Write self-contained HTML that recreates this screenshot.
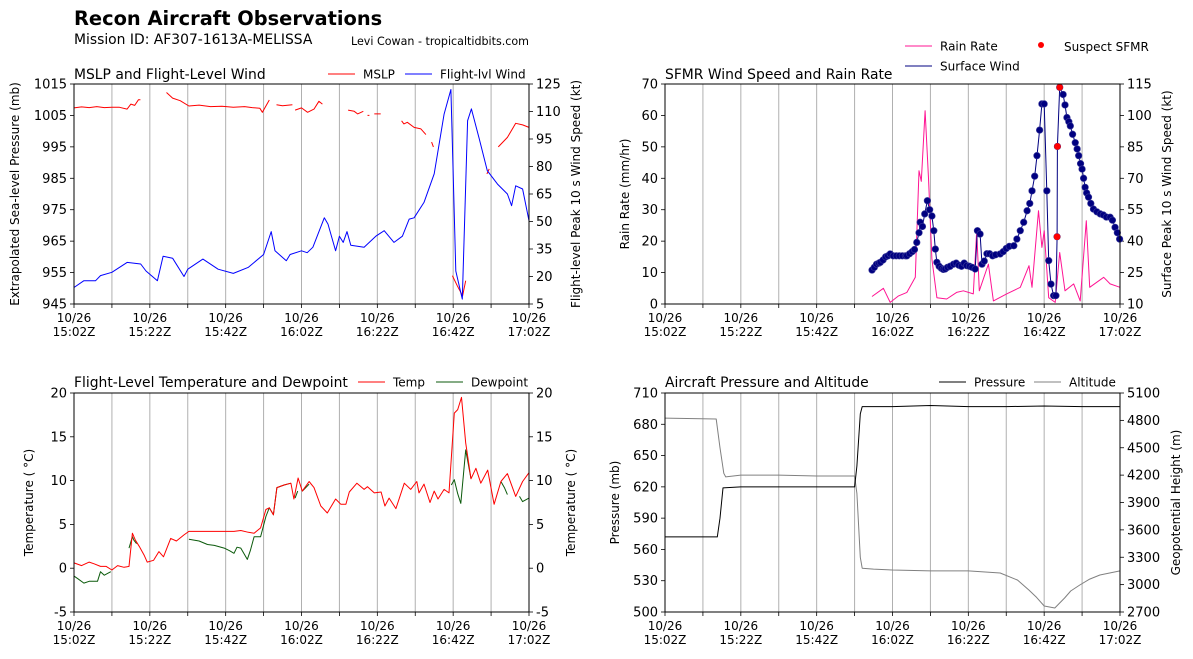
<!DOCTYPE html>
<html><head><meta charset="utf-8"><style>
html,body{margin:0;padding:0;background:#fff;}
svg{display:block;font-family:"DejaVu Sans","Liberation Sans",sans-serif;}
</style></head><body>
<svg id="fig" width="1193" height="659" viewBox="0 0 1193 659" xmlns="http://www.w3.org/2000/svg">
<text x="74" y="25" font-size="19.4" font-weight="bold">Recon Aircraft Observations</text>
<text x="74" y="44" font-size="13.9">Mission ID: AF307-1613A-MELISSA</text>
<text x="351" y="45" font-size="11.1">Levi Cowan - tropicaltidbits.com</text>
</svg>
<script>
// ---- data (t = minutes after 15:02Z) ----
const xTickLabels = ["15:02Z","15:22Z","15:42Z","16:02Z","16:22Z","16:42Z","17:02Z"];
const mslpT = [0,2,4,6,8,10,12,14,15,16,17,17.5,null,24.4,26,28,30.3,33,36,39,42,45,47,49,49.7,51.5,null,53.4,55,57.6,null,58.3,60,61.6,63.3,64.6,65.5,null,72.3,73.9,74.8,76.3,null,77.4,77.9,null,79.2,80.9,null,86.4,87,87.9,89.7,91.5,92.8,null,94.3,94.8,null,99.8,101.1,102.5,103.3,null,108.9,109.5,null,111.9,114.3,116.5,118.3,120];
const mslpV = [1007.4,1007.7,1007.5,1007.8,1007.5,1007.6,1007.6,1007,1008.6,1008.2,1010,1010,null,1012.3,1010.5,1009.7,1008,1008.3,1007.8,1007.9,1007.6,1007.8,1007.5,1007.3,1006,1009.9,null,1008.4,1008.1,1008.4,null,1006.7,1007.4,1006,1007,1009.5,1008.6,null,1006.7,1006.3,1005.5,1006.3,null,1005,1005,null,1005.5,1005.5,null,1003.3,1002.3,1002.8,1001.2,1000.7,998.9,null,996.5,995,null,954,950.8,947.6,952.4,null,986.4,988,null,995,998,1002.5,1002,1001.2];
const windT = [0,2.6,5.7,7,10,14,17.6,19,22,23.5,26,29,30,34,38,42,46,50,52,53,56,57,60,61.5,63,66,67,69,70,71,72,73,76.5,79.6,81.8,84.4,86.6,88.4,89.7,92.3,95,97.6,99.4,100.7,102.4,103.8,104.8,106.9,109,111.7,114.3,115.4,116.5,118.3,120];
const windV = [14,17.7,17.7,20.5,22.3,27.7,26.8,23,17.7,31,30,20,24,29.5,24,21.7,25,32,44.5,34,28.6,32,34,33,36,52,48.6,34,42,38.6,44.5,37,36,42,45,38.6,42,51.3,52,60.4,76,108.6,122,23,7.7,105,111.4,95,77.7,70.4,65,58.6,69.5,67.7,50.4];
const rainT = [54.6,57.6,59.4,61.5,63.8,66,67,67.6,68.6,69.5,70.4,71.7,74.3,76.9,78.7,81.3,82.2,82.9,85.3,86.6,90.1,93.7,96,96.8,98.5,99.4,100,101.2,102.9,104.1,105.5,107.8,109.5,111.1,112,115.7,117.4,120];
const rainV = [2.4,5,0.5,2.5,3.7,8.5,42.4,39,61.5,40,14.3,2,1.6,3.7,4.2,3.2,23.3,4.2,12.7,1,3.2,5.3,12.2,5.3,29.7,18,23.3,2,0.5,16.4,4.2,6.4,1,26.5,5.3,8.5,6.4,5.3];
const sfmrT = [54.6,55.2,55.8,56.4,56.8,57.5,58.2,58.8,59.4,60.2,61,61.8,62.6,63.4,63.8,64.5,65.2,65.8,66.4,67,67.3,67.9,68.5,69.2,69.8,70.4,70.9,71.3,71.7,72.3,72.9,73.4,73.9,74.5,75.2,76.1,76.8,77.5,78.2,78.9,79.6,80.3,81,81.8,82.4,83.1,83.6,84.2,84.9,85.6,86.4,87.2,88.4,89.2,90,90.8,92,92.8,93.7,94.6,95.5,96.2,96.8,97.5,98.1,98.8,99.4,100,100.7,101.2,101.8,102.5,103.1,103.4,103.5,104.1,105,105.5,106,106.5,106.9,107.5,108.2,108.7,109.1,109.6,110,110.4,110.8,111.2,111.7,112.3,113,113.9,114.8,115.6,116.4,117.4,118,118.7,119.3,119.9];
const sfmrV = [26.2,27.5,29,29.5,29.9,31,32.5,33,33.9,33,33,33,33,33,33,34,35,36,39.4,44,49,47,53,59.3,55,52,45,36.2,29.9,28,27,26.5,26.7,27.5,28,29,29.5,28.5,28,29.5,28.3,28,27.5,26.7,45,43.4,29,30.5,34,34,33,33.5,33.9,35,36.5,37.5,37.8,41,45,49,54.5,58,64,71,80.8,93,105.5,105.5,64,30.7,19.5,14,14,42.1,85.2,113.4,110,105,99,97,95,91,87,84,80.8,77,74.4,70,65.7,63,61,58,55.3,54,53,52.5,51.5,51.4,50,46.6,44,41];
const suspectT = [103.4,103.5,104.1];
const suspectV = [42.1,85.2,113.4];
const tempT = [0,2,4,5.3,7,8.5,10,11.5,13.2,14.5,15.4,16.2,17.2,18.5,19.3,21,22.4,23.6,25.5,27,29,30.3,42.2,44,46,47.5,49.2,50.6,51.5,52.6,53.5,55.4,57.2,58,59.1,60.2,62,63.3,65.1,66.8,69,70.4,71.7,72.6,74.6,76.5,77.4,79.2,81,82,83.1,84.9,87.1,88.8,90.4,91,92.3,93.9,95,96,97.6,98.9,100.3,101.2,102.2,103.3,104.7,106,107.3,109.1,110.8,112.6,114.3,116.5,118.3,120];
const tempV = [0.6,0.3,0.7,0.5,0.2,0.2,-0.2,0.3,0.1,0.2,4,3.2,2.5,1.5,0.7,0.9,1.9,1.3,3.4,3.1,3.8,4.2,4.2,4.3,4.1,4,4.6,6.7,6.9,6.1,9.2,9.5,9.7,7.9,10.3,8.8,9.9,9.2,7.1,6.3,7.9,7.3,7.3,8.7,9.7,9,9.3,8.6,8.7,7.1,8,6.8,9.7,9,9.9,8.6,9.6,7.5,8.8,7.9,9,8.6,17.7,18.1,19.5,14.3,10.2,11.4,9.7,11.2,7.3,9.9,10.8,8.2,9.9,10.9];
const dewT = [0,1,2.6,4,6.2,7,8,9.7,null,14.5,15.4,15.8,16.5,null,30.3,33,35.2,37,39.6,41,42.2,43,44,45.7,46.5,47.5,49.2,50.6,51.5,52.6,53.5,55.4,57.2,null,58.3,59,null,60.2,62,null,99.5,100.3,101.2,102,103.3,104.7,null,112.6,113.5,114.3,null,117.5,118.3,120];
const dewV = [-0.9,-1.2,-1.7,-1.5,-1.5,-0.4,-0.8,-0.4,null,2.3,3.6,3.2,2.8,null,3.3,3.1,2.7,2.6,2.3,2,1.7,2.4,2.3,1,2,3.6,3.6,5.9,6.9,6.1,9.2,9.5,9.7,null,8,8.8,null,8.8,9.6,null,9.5,10.1,8.5,7.4,13.5,10.2,null,9.9,9.2,8.4,null,8.2,7.6,8];
const presT = [0,13.8,14.5,15.3,20,30,40,50,50.6,51.5,52,60,70,80,90,100,110,120];
const presV = [572,572,590,619,620,620,620,620,640,690,697,697,698,697,697,697.5,697,697];
const altT = [0,13.5,14.5,15.5,16,20,30,40,50,50.6,51.5,52,55,60,70,80,88.4,93,96,98,100,102.8,105.4,107,109.4,112,114.7,120];
const altV = [4825,4815,4500,4220,4180,4200,4200,4190,4190,4000,3300,3180,3170,3160,3150,3150,3127,3050,2940,2860,2766,2744,2853,2930,2996,3060,3105,3150];
const p1LeftTicks = [945,955,965,975,985,995,1005,1015];
const p1RightTicks = [5,20,35,50,65,80,95,110,125];
const p2LeftTicks = [0,10,20,30,40,50,60,70];
const p2RightTicks = [10,25,40,55,70,85,100,115];
const p3Ticks = [-5,0,5,10,15,20];
const p4LeftTicks = [500,530,560,590,620,650,680,710];
const p4RightTicks = [2700,3000,3300,3600,3900,4200,4500,4800,5100];

const NS = "http://www.w3.org/2000/svg";
const fig = document.getElementById("fig");
function mk(tag, attrs, parent){
  const e = document.createElementNS(NS, tag);
  for (const k in attrs) e.setAttribute(k, attrs[k]);
  (parent||fig).appendChild(e);
  return e;
}
function lin(d0,d1,r0,r1){ return v => r0 + (v-d0)/(d1-d0)*(r1-r0); }

function panel(name, x0, x1, y0, y1){
  const g = mk("g", {});
  
  
  const xs = lin(0,120,x0,x1);
  for (let t=10;t<120;t+=10){
    const l = mk("line",{x1:xs(t),x2:xs(t),y1:y0,y2:y1,stroke:"#b0b0b0","stroke-width":1},g);
    
    
  }
  for (let t=0;t<=120;t+=10){
    const tk = mk("line",{x1:xs(t),x2:xs(t),y1:y1,y2:y1+4,stroke:"#000","stroke-width":0.8},g);
    
    
  }
  xTickLabels.forEach((lab,i)=>{
    const t = i*20;
    const a = mk("text",{x:xs(t),y:y1+18,"font-size":12,"text-anchor":"middle"},g);
    a.textContent = "10/26";
    
    
    const b = mk("text",{x:xs(t),y:y1+32,"font-size":12,"text-anchor":"middle"},g);
    b.textContent = lab;
    
    
  });
  return {g, xs, x0, x1, y0, y1};
}
function frame(P){
  const r = mk("rect",{x:P.x0,y:P.y0,width:P.x1-P.x0,height:P.y1-P.y0,fill:"none",stroke:"#000","stroke-width":1},P.g);
  
  
}
function yAxis(P, ticks, d0, d1, side, title, titleX){
  const ys = lin(d0,d1,P.y1,P.y0);
  const x = side==="left"?P.x0:P.x1;
  ticks.forEach(v=>{
    const tk = mk("line",{x1:x,x2:side==="left"?x-4:x+4,y1:ys(v),y2:ys(v),stroke:"#000","stroke-width":0.8},P.g);
    
    
    const tx = mk("text",{x:side==="left"?x-7:x+7,y:ys(v)+4.5,"font-size":13,"text-anchor":side==="left"?"end":"start"},P.g);
    tx.textContent = v;
    
    
  });
  const cy = (P.y0+P.y1)/2;
  const tt = mk("text",{x:titleX,y:cy,"font-size":12,"text-anchor":"middle",transform:`rotate(-90 ${titleX} ${cy})`},P.g);
  tt.textContent = title;
  
  
  return ys;
}
function series(P, T, V, ys, color, name, w){
  let d = "", pen = false;
  for (let i=0;i<T.length;i++){
    if (T[i]===null || V[i]===null){ pen=false; continue; }
    d += (pen?"L":"M") + P.xs(T[i]).toFixed(1) + "," + ys(V[i]).toFixed(1);
    pen = true;
  }
  const p = mk("path",{d:d,fill:"none",stroke:color,"stroke-width":w||1,"stroke-linejoin":"round"},P.g);
  
  
  return p;
}
function text(P, x, y, s, name, size){
  const t = mk("text",{x:x,y:y,"font-size":size||13.9},P.g);
  t.textContent = s;
  
  
}
function legLine(P, x, y, color, label, name){
  const l = mk("line",{x1:x,x2:x+27,y1:y,y2:y,stroke:color,"stroke-width":1},P.g);
  
  
  const t = mk("text",{x:x+35,y:y+4.5,"font-size":12},P.g);
  t.textContent = label;
  
  
}

// Panel 1
const P1 = panel("mslp-wind-panel",74,529,84,304);
const p1L = yAxis(P1,p1LeftTicks,945,1015,"left","Extrapolated Sea-level Pressure (mb)",19);
const p1R = yAxis(P1,p1RightTicks,5,125,"right","Flight-level Peak 10 s Wind Speed (kt)",580);
series(P1,mslpT,mslpV,p1L,"#ff0000","mslp-line");
series(P1,windT,windV,p1R,"#0000ff","flight-wind-line");
frame(P1);
text(P1,74,79,"MSLP and Flight-Level Wind","panel-title");
legLine(P1,328,74,"#ff0000","MSLP","legend-mslp");
legLine(P1,405,74,"#0000ff","Flight-lvl Wind","legend-flight-wind");

// Panel 2
const P2 = panel("sfmr-rain-panel",665,1120,84,304);
const p2L = yAxis(P2,p2LeftTicks,0,70,"left","Rain Rate (mm/hr)",629);
const p2R = yAxis(P2,p2RightTicks,10,115,"right","Surface Peak 10 s Wind Speed (kt)",1171);
series(P2,rainT,rainV,p2L,"#ff1493","rain-rate-line");
series(P2,sfmrT,sfmrV,p2R,"#000080","surface-wind-line");
sfmrT.forEach((t,i)=>{
  const c = mk("circle",{cx:P2.xs(t),cy:p2R(sfmrV[i]),r:3.3,fill:"#000080",stroke:"#3a3a9a","stroke-width":0.6},P2.g);
  
  
});
suspectT.forEach((t,i)=>{
  const c = mk("circle",{cx:P2.xs(t),cy:p2R(suspectV[i]),r:3.3,fill:"#ff0000"},P2.g);
  
  
});
frame(P2);
text(P2,665,79,"SFMR Wind Speed and Rain Rate","panel-title");
legLine(P2,905,46,"#ff1493","Rain Rate","legend-rain-rate");
legLine(P2,905,66,"#000080","Surface Wind","legend-surface-wind");
{
  const c = mk("circle",{cx:1041,cy:45,r:3,fill:"#ff0000"},P2.g);
  
  
  text(P2,1064,51,"Suspect SFMR","legend-suspect-label",12);
}

// Panel 3
const P3 = panel("temp-dewpoint-panel",74,529,393,612);
const p3L = yAxis(P3,p3Ticks,-5,20,"left","Temperature ( \u00B0C)",33);
const p3R = yAxis(P3,p3Ticks,-5,20,"right","Temperature ( \u00B0C)",575);
series(P3,dewT,dewV,p3L,"#0b5a0b","dewpoint-line");
series(P3,tempT,tempV,p3L,"#ff0000","temperature-line");
frame(P3);
text(P3,74,387,"Flight-Level Temperature and Dewpoint","panel-title");
legLine(P3,358,382,"#ff0000","Temp","legend-temp");
legLine(P3,436,382,"#0b5a0b","Dewpoint","legend-dewpoint");

// Panel 4
const P4 = panel("pressure-altitude-panel",665,1120,393,612);
const p4L = yAxis(P4,p4LeftTicks,500,710,"left","Pressure (mb)",619);
const p4R = yAxis(P4,p4RightTicks,2700,5100,"right","Geopotential Height (m)",1180);
series(P4,altT,altV,p4R,"#808080","altitude-line");
series(P4,presT,presV,p4L,"#000000","pressure-line");
frame(P4);
text(P4,665,387,"Aircraft Pressure and Altitude","panel-title");
legLine(P4,939,382,"#000000","Pressure","legend-pressure");
legLine(P4,1034,382,"#808080","Altitude","legend-altitude");
</script>
</body></html>
